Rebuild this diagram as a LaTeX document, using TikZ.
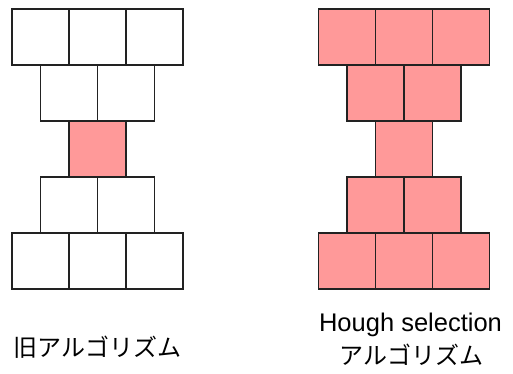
\documentclass[tikz,border=0pt]{standalone}
\usepackage{fontspec}
\setmainfont{Liberation Sans}
\newfontfamily\jpfont{Noto Sans CJK JP}
\definecolor{cellpink}{HTML}{FF9999}
\definecolor{cellline}{HTML}{222222}
\tikzset{
  cell/.style={rectangle, inner sep=0pt, minimum width=57pt, minimum height=56pt},
  hot/.style={cell, fill=cellpink},
  border/.style={draw=cellline, line width=1.5pt},
  caption/.style={inner sep=0pt, text=black}
}
\begin{document}
\begin{tikzpicture}[x=1pt,y=1pt]
\useasboundingbox (0,0) rectangle (513,374);
% left group
\foreach \i/\x in {1/40.5,2/97.5,3/154.5}{
  \node[cell] (La\i) at (\x,337) {};
  \node[cell] (Le\i) at (\x,113) {};
}
\foreach \i/\x in {1/69,2/126}{
  \node[cell] (Lb\i) at (\x,281) {};
  \node[cell] (Ld\i) at (\x,169) {};
}
\node[hot] (Lc) at (97.5,225) {};
% right group
\foreach \i/\x in {1/347,2/404,3/461}{
  \node[hot] (Ra\i) at (\x,337) {};
  \node[hot] (Re\i) at (\x,113) {};
}
\foreach \i/\x in {1/375.5,2/432.5}{
  \node[hot] (Rb\i) at (\x,281) {};
  \node[hot] (Rd\i) at (\x,169) {};
}
\node[hot] (Rc) at (404,225) {};
% borders on top of all fills
\foreach \n in {La1,La2,La3,Lb1,Lb2,Lc,Ld1,Ld2,Le1,Le2,Le3,Ra1,Ra2,Ra3,Rb1,Rb2,Rc,Rd1,Rd2,Re1,Re2,Re3}{
  \draw[border] (\n.south west) rectangle (\n.north east);
}
% captions
\node[caption, font=\jpfont\fontsize{24}{28}\selectfont] (capL) at (97.5,26.5) {旧アルゴリズム};
\node[caption, font=\fontsize{25.5}{30}\selectfont, anchor=base] (capR1) at (410.5,42) {Hough selection};
\node[caption, font=\jpfont\fontsize{24}{28}\selectfont] (capR2) at (411.5,19.5) {アルゴリズム};
\end{tikzpicture}
\end{document}
